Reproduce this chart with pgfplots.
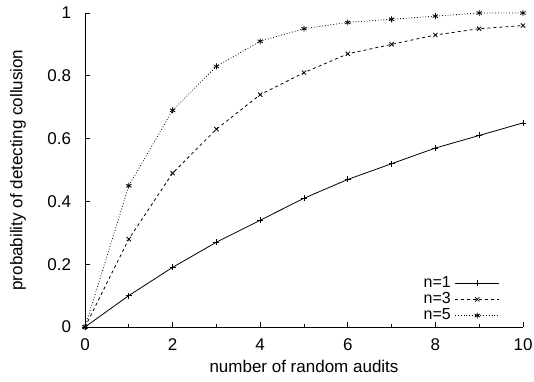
\documentclass[border=0pt]{standalone}
\usepackage{fontspec}
\setmainfont{Liberation Sans}
\usepackage{pgfplots}
\pgfplotsset{compat=1.18}
\begin{document}
\fontsize{17}{20}\selectfont
\begin{tikzpicture}
\useasboundingbox (-85pt,-54pt) rectangle (449pt,327pt);
\begin{axis}[
 scale only axis, width=438pt, height=314pt,
 at={(0pt,0pt)}, anchor=south west,
 xmin=0, xmax=10, ymin=0, ymax=1,
 axis lines*=left,
 axis line style={line width=0.8pt},
 xtick={0,2,4,6,8,10}, minor x tick num=1,
 ytick={0,0.2,0.4,0.6,0.8,1},
 major tick length=5pt, minor tick length=3pt,
 tick style={black, line width=0.8pt},
 tick align=inside,
 /pgf/number format/assume math mode=true,
 font=\fontsize{17}{20}\selectfont,
 xlabel={number of random audits},
 ylabel={probability of detecting collusion},
 xlabel style={at={(axis description cs:0.5,-0.127)}, anchor=center},
 ylabel style={at={(axis description cs:-0.153,0.5)}, anchor=center},
 xticklabel style={yshift=-6pt},
 yticklabel style={xshift=-8pt},
 legend style={draw=none, fill=none, at={(0.954,0.008)}, anchor=south east,
   row sep=2.5pt, font=\fontsize{16}{18}\selectfont,
   nodes={inner ysep=0pt, inner xsep=4pt}},
 legend cell align=right,
 legend plot pos=right,
 legend image code/.code={\draw[mark repeat=2,mark phase=2] plot coordinates {(0pt,0pt)(22pt,0pt)(44pt,0pt)};},
 every axis plot/.append style={black, line width=0.8pt, mark size=3pt, mark options={solid}},
]
\addplot[solid, mark=+] coordinates {(0,0)(1,0.10)(2,0.19)(3,0.27)(4,0.34)(5,0.41)(6,0.47)(7,0.52)(8,0.57)(9,0.61)(10,0.65)};
\addlegendentry{n=1}
\addplot[dashed, mark=x] coordinates {(0,0)(1,0.28)(2,0.49)(3,0.63)(4,0.74)(5,0.81)(6,0.87)(7,0.90)(8,0.93)(9,0.95)(10,0.96)};
\addlegendentry{n=3}
\addplot[dotted, mark=asterisk] coordinates {(0,0)(1,0.45)(2,0.69)(3,0.83)(4,0.91)(5,0.95)(6,0.97)(7,0.98)(8,0.99)(9,1.00)(10,1.00)};
\addlegendentry{n=5}
\end{axis}
\end{tikzpicture}
\end{document}
